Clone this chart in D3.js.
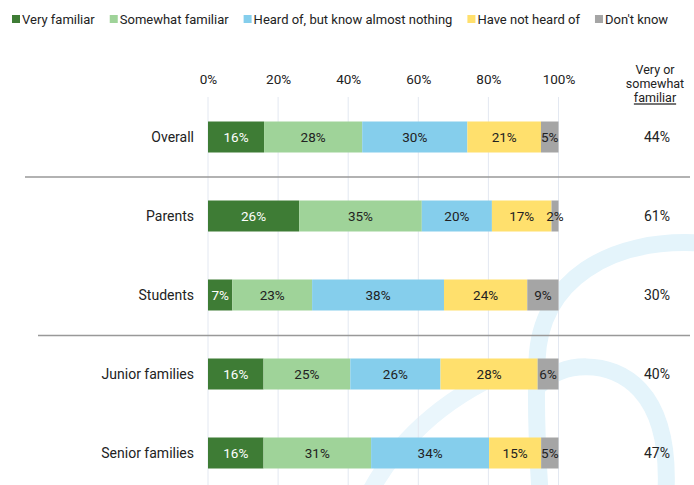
<!DOCTYPE html>
<html>
<head>
<meta charset="utf-8">
<script src="https://cdn.jsdelivr.net/npm/d3@7"></script>
<style>
  body { margin: 0; background: #fff; }
  svg { display: block; font-family: Roboto, "Noto Sans", sans-serif; }
</style>
</head>
<body>
<div id="chart"></div>
<script>
// data
var categories = ['Overall', 'Parents', 'Students', 'Junior families', 'Senior families'];
var seriesNames = ['Very familiar', 'Somewhat familiar', 'Heard of, but know almost nothing', 'Have not heard of', "Don't know"];
var veryFamiliar = [16, 26, 7, 16, 16];
var somewhatFamiliar = [28, 35, 23, 25, 31];
var heardOf = [30, 20, 38, 26, 34];
var notHeard = [21, 17, 24, 28, 15];
var dontKnow = [5, 2, 9, 6, 5];
var veryOrSomewhat = [44, 61, 30, 40, 47];
var tickValues = [0, 20, 40, 60, 80, 100];
var headerLines = ['Very or', 'somewhat', 'familiar'];

var colors = ['#3e7c35', '#9fd399', '#85ceec', '#ffe06d', '#a5a5a5'];
var textColors = ['#ffffff', '#222222', '#222222', '#222222', '#222222'];

var width = 694, height = 485;

// build rows, each normalised so the bar fills 0-100
var table = categories.map(function(c, i) {
  var vals = [veryFamiliar[i], somewhatFamiliar[i], heardOf[i], notHeard[i], dontKnow[i]];
  var total = d3.sum(vals);
  var x0 = 0;
  var segs = vals.map(function(v, k) {
    var s = { key: k, value: v, x0: x0, x1: x0 + v / total * 100 };
    x0 = s.x1;
    return s;
  });
  return { cat: c, segs: segs, vos: veryOrSomewhat[i] };
});

var svg = d3.select('#chart')
  .append('svg')
  .attr('width', width)
  .attr('height', height);

var x = d3.scaleLinear().domain([0, 100]).range([208, 558.5]);
var y = d3.scalePoint().domain(categories).range([137, 453]);
var barH = 31;

// faint decorative swirl in the background
var deco = svg.append('g')
  .attr('fill', 'none')
  .attr('stroke', '#e4f4fb')
  .attr('stroke-width', 17)
  .attr('stroke-linecap', 'round');
deco.append('path').attr('d', 'M 700 243 C 610 238, 540 280, 537 360 C 535 420, 538 460, 540 492');
deco.append('path').attr('d', 'M 540 385 C 560 362, 610 358, 640 390 C 662 414, 668 450, 666 492');
deco.append('path').attr('d', 'M 370 492 C 395 445, 440 400, 505 372').attr('stroke', '#eaf6fc');

// gridlines
svg.append('g')
  .selectAll('line')
  .data(tickValues)
  .enter().append('line')
  .attr('x1', function(d) { return x(d); })
  .attr('x2', function(d) { return x(d); })
  .attr('y1', 97)
  .attr('y2', height)
  .attr('stroke', '#e3e8f1')
  .attr('stroke-width', 1);

// top axis labels
var axis = svg.append('g')
  .attr('transform', 'translate(0,84)')
  .call(d3.axisTop(x).tickValues(tickValues).tickSize(0).tickPadding(0)
    .tickFormat(function(d) { return d + '%'; }));
axis.select('.domain').remove();
axis.selectAll('text')
  .style('font-family', 'Roboto, sans-serif')
  .style('font-size', '13.5px')
  .attr('fill', '#222');

// separators between groups
svg.append('line')
  .attr('x1', 25).attr('x2', 690).attr('y1', 177).attr('y2', 177)
  .attr('stroke', '#999').attr('stroke-width', 1.3);
svg.append('line')
  .attr('x1', 38).attr('x2', 690).attr('y1', 335.5).attr('y2', 335.5)
  .attr('stroke', '#999').attr('stroke-width', 1.3);

// bars
var rows = svg.selectAll('.row')
  .data(table)
  .enter().append('g')
  .attr('class', 'row')
  .attr('transform', function(d) { return 'translate(0,' + y(d.cat) + ')'; });

rows.selectAll('rect')
  .data(function(d) { return d.segs; })
  .enter().append('rect')
  .attr('x', function(d) { return x(d.x0); })
  .attr('width', function(d) { return x(d.x1) - x(d.x0); })
  .attr('y', -barH / 2)
  .attr('height', barH)
  .attr('fill', function(d) { return colors[d.key]; });

rows.selectAll('.val')
  .data(function(d) { return d.segs; })
  .enter().append('text')
  .attr('class', 'val')
  .attr('x', function(d) { return (x(d.x0) + x(d.x1)) / 2; })
  .attr('y', 0)
  .attr('dy', '0.35em')
  .attr('text-anchor', 'middle')
  .style('font-size', '13.5px')
  .attr('fill', function(d) { return textColors[d.key]; })
  .text(function(d) { return d.value + '%'; });

rows.append('text')
  .attr('x', 194)
  .attr('dy', '0.35em')
  .attr('text-anchor', 'end')
  .style('font-size', '14px')
  .attr('fill', '#222')
  .text(function(d) { return d.cat; });

rows.append('text')
  .attr('x', 657)
  .attr('dy', '0.35em')
  .attr('text-anchor', 'middle')
  .style('font-size', '14px')
  .attr('fill', '#222')
  .text(function(d) { return d.vos + '%'; });

// right column header
svg.selectAll('.hdr')
  .data(headerLines)
  .enter().append('text')
  .attr('class', 'hdr')
  .attr('x', 655)
  .attr('y', function(d, i) { return 70 + i * 14; })
  .attr('dy', '0.35em')
  .attr('text-anchor', 'middle')
  .style('font-size', '12.5px')
  .attr('fill', '#222')
  .style('text-decoration', function(d, i) { return i === 2 ? 'underline' : null; })
  .text(function(d) { return d; });

// legend, laid out left to right
var legend = svg.append('g').attr('transform', 'translate(0,19)');
var lx = 12;
seriesNames.forEach(function(name, i) {
  legend.append('rect')
    .attr('x', lx).attr('y', -4).attr('width', 8).attr('height', 8)
    .attr('fill', colors[i]);
  var t = legend.append('text')
    .attr('x', lx + 10)
    .attr('dy', '0.35em')
    .style('font-size', '13px')
    .attr('fill', '#222')
    .text(name);
  lx = lx + 10 + t.node().getComputedTextLength() + 15;
});
</script>
</body>
</html>
